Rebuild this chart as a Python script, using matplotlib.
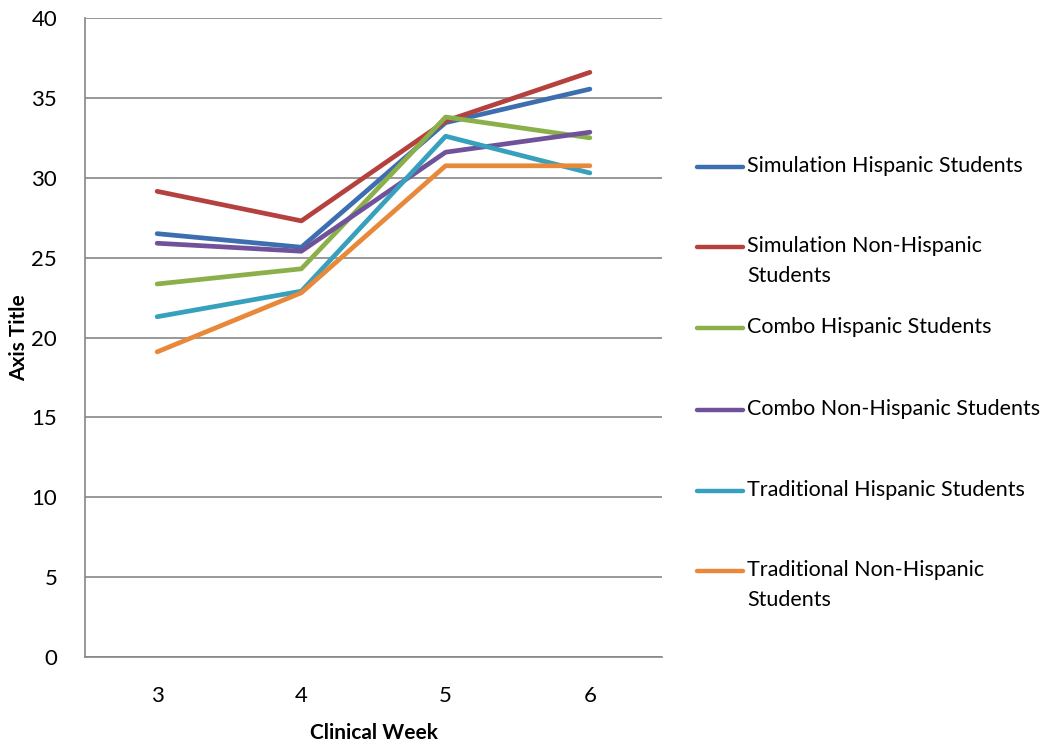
import matplotlib
matplotlib.use("Agg")
import matplotlib.pyplot as plt
from matplotlib.lines import Line2D

plt.rcParams["font.family"] = ["Lato", "DejaVu Sans"]

weeks = [3, 4, 5, 6]
series_names = [
    "Simulation Hispanic Students",
    "Simulation Non-Hispanic\nStudents",
    "Combo Hispanic Students",
    "Combo Non-Hispanic Students",
    "Traditional Hispanic Students",
    "Traditional Non-Hispanic\nStudents",
]
sim_hisp = [26.5, 25.65, 33.45, 35.55]
sim_nonhisp = [29.15, 27.3, 33.55, 36.6]
combo_hisp = [23.35, 24.3, 33.8, 32.5]
combo_nonhisp = [25.9, 25.4, 31.6, 32.85]
trad_hisp = [21.3, 22.9, 32.6, 30.3]
trad_nonhisp = [19.1, 22.8, 30.75, 30.75]
colors = ["#3d6fb0", "#b5413e", "#8bb04a", "#6f529a", "#37a1bd", "#e8883a"]

fig = plt.figure(figsize=(10.4, 7.48), dpi=100)
ax = fig.add_axes([85 / 1040, 1 - 657 / 748, 577 / 1040, 639 / 748])

all_series = [sim_hisp, sim_nonhisp, combo_hisp, combo_nonhisp, trad_hisp, trad_nonhisp]
for vals, c in zip(all_series, colors):
    ax.plot(weeks, vals, color=c, lw=3.4, solid_capstyle="round",
            solid_joinstyle="round", zorder=3)

ax.set_xlim(2.5, 6.5)
ax.set_ylim(0, 40)
ax.set_yticks(range(0, 41, 5))
ax.set_xticks(weeks)
ax.yaxis.grid(True, color="#868686", lw=1.2)
ax.set_axisbelow(True)
for s in ["top", "right"]:
    ax.spines[s].set_visible(False)
for s in ["left", "bottom"]:
    ax.spines[s].set_color("#868686")
    ax.spines[s].set_linewidth(1.2)
ax.tick_params(length=0, labelsize=16)
ax.tick_params(axis="x", pad=21)
ax.tick_params(axis="y", pad=20)
ax.set_xlabel("Clinical Week", fontsize=15, fontweight="bold")
ax.set_ylabel("Axis Title", fontsize=15, fontweight="bold")
ax.xaxis.set_label_coords(0.5, -0.103)
ax.yaxis.set_label_coords(-0.097, 0.5)

# legend drawn by hand so the line sits beside the first text line
leg_y = [167, 247, 328, 410, 491, 571]
for name, c, y in zip(series_names, colors, leg_y):
    fy = 1 - y / 748
    fig.add_artist(Line2D([697 / 1040, 743 / 1040], [fy, fy], color=c, lw=3.2,
                          solid_capstyle="round", transform=fig.transFigure))
    fig.text(747 / 1040, fy + 11 / 748, name, fontsize=15.5, va="top", ha="left",
             linespacing=1.6)

fig.savefig("out.png", dpi=100)
